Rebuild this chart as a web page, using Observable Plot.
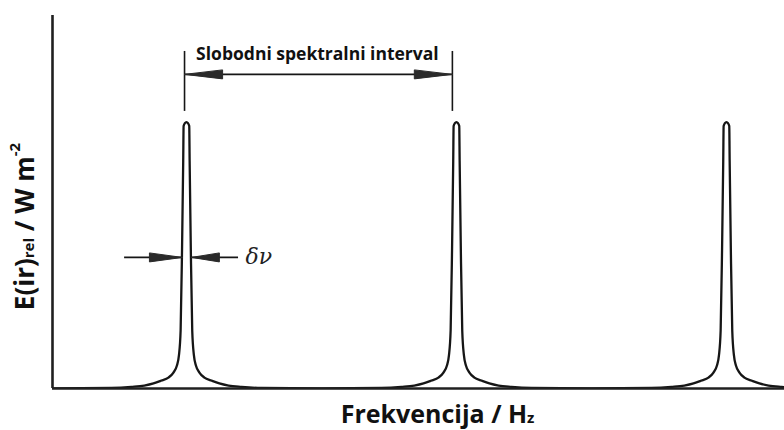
<!DOCTYPE html>
<html>
<head>
<meta charset="utf-8">
<script src="https://cdn.jsdelivr.net/npm/d3@7"></script>
<script src="https://cdn.jsdelivr.net/npm/@observablehq/plot@0.6"></script>
<style>
  html, body { margin: 0; padding: 0; background: #fff; }
  #chart { width: 784px; height: 430px; }
</style>
</head>
<body>
<div id="chart"></div>
<script>
// Peak positions (frequency, in units of the free spectral range)
const peakCenters = [0.5, 1.5, 2.5];
// One transmission peak: offset from centre vs relative irradiance
const profileOffset = [0, 0.0056, 0.0104, 0.0119, 0.0163, 0.0215, 0.0278, 0.0352, 0.0481, 0.0667, 0.0926, 0.122, 0.156, 0.204, 0.278, 0.5];
const profileValue  = [1.0, 0.996, 0.985, 0.854, 0.518, 0.218, 0.124, 0.086, 0.060, 0.041, 0.030, 0.019, 0.011, 0.006, 0.002, 0.0];

// Annotation values
const fsrLabel = "Slobodni spektralni interval";
const fsrTicksX = [0.493, 1.485];
const fsrTickY = [1.040, 1.265];
const fsrArrowY = 1.179;
const widthLabel = "δν";
const widthArrowY = 0.492;
const xLabel = "Frekvencija / Hz";
const yLabel = "E(ir)rel / W m-2";

// Build curve table
const seen = new Map();
for (const c of peakCenters) {
  for (let i = profileOffset.length - 1; i >= 0; i--) {
    const x = +(c - profileOffset[i]).toFixed(5);
    if (!seen.has(x)) seen.set(x, profileValue[i]);
  }
  for (let i = 1; i < profileOffset.length; i++) {
    const x = +(c + profileOffset[i]).toFixed(5);
    if (!seen.has(x)) seen.set(x, profileValue[i]);
  }
}
const curve = Array.from(seen, ([x, y]) => ({x, y})).sort((a, b) => a.x - b.x);

// Arrowhead triangles (tip, base-top, base-bottom)
const hh = 0.0169;
function tri(id, tipX, baseX, y) {
  return [
    {id, x: tipX, y},
    {id, x: baseX, y: y + hh},
    {id, x: baseX, y: y - hh},
    {id, x: tipX, y}
  ];
}
const heads = [
  ...tri("fsrL", 0.493, 0.634, fsrArrowY),
  ...tri("fsrR", 1.485, 1.344, fsrArrowY),
  ...tri("dL", 0.485, 0.363, widthArrowY),
  ...tri("dR", 0.519, 0.622, widthArrowY)
];
const shafts = [
  {x1: 0.493, x2: 1.485, y: fsrArrowY},
  {x1: 0.271, x2: 0.485, y: widthArrowY},
  {x1: 0.519, x2: 0.693, y: widthArrowY}
];

const ink = "#161616";

const svg = Plot.plot({
  width: 784,
  height: 430,
  marginLeft: 52,
  marginRight: 0,
  marginTop: 15,
  marginBottom: 42,
  x: {domain: [0.004, 2.715], axis: null},
  y: {domain: [0, 1.4], axis: null},
  style: {background: "white", overflow: "visible", fontFamily: "Open Sans"},
  marks: [
    Plot.line(curve, {x: "x", y: "y", stroke: ink, strokeWidth: 2.3, curve: "monotone-x", clip: true}),
    Plot.ruleY([0], {stroke: "#202020", strokeWidth: 2.6}),
    Plot.ruleX([0.004], {stroke: "#202020", strokeWidth: 2.6}),
    Plot.ruleX(fsrTicksX, {y1: fsrTickY[0], y2: fsrTickY[1], stroke: ink, strokeWidth: 1.6}),
    Plot.ruleY(shafts, {x1: "x1", x2: "x2", y: "y", stroke: ink, strokeWidth: 1.6}),
    Plot.line(heads, {x: "x", y: "y", z: "id", fill: "#2a2a2a", stroke: "#2a2a2a", strokeWidth: 1}),
    Plot.text([fsrLabel], {x: 0.985, y: 1.254, fontSize: 17.5, fontWeight: "bold", fill: "#111", fontFamily: "Open Sans"}),
    Plot.text([widthLabel], {x: 0.719, y: widthArrowY, textAnchor: "start", fontSize: 22, fontStyle: "italic", fontFamily: "DejaVu Serif", fill: "#222"}),
    Plot.text([xLabel], {x: 1.43, y: -0.098, fontSize: 25, fontWeight: "bold", fill: "#111", fontFamily: "Open Sans", className: "xlab"}),
    Plot.text([yLabel], {x: -0.097, y: 0.608, rotate: -90, fontSize: 26, fontWeight: "bold", fill: "#111", fontFamily: "Open Sans", className: "ylab"})
  ]
});

// Rich text: subscripts / superscripts
const xl = d3.select(svg).select("g.xlab text");
xl.text(null);
xl.append("tspan").text("Frekvencija / H");
xl.append("tspan").attr("font-size", 15).text("z");

const yl = d3.select(svg).select("g.ylab text");
yl.text(null);
yl.append("tspan").text("E(ir)");
yl.append("tspan").attr("font-size", 15).text("rel");
yl.append("tspan").text(" / W m");
yl.append("tspan").attr("font-size", 15).attr("dy", "-0.9em").text("-2");

document.getElementById("chart").appendChild(svg);
</script>
</body>
</html>
